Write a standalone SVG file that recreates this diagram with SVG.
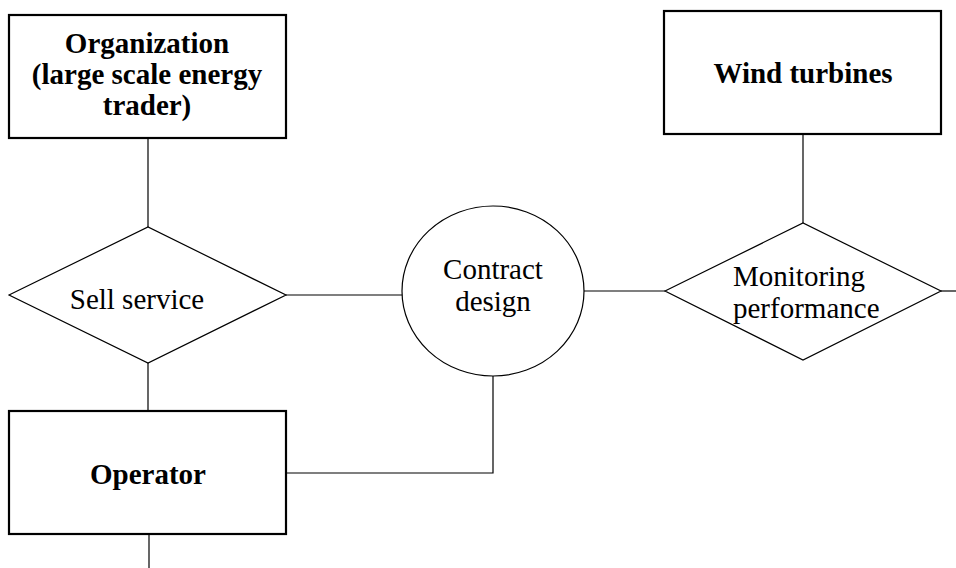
<svg xmlns="http://www.w3.org/2000/svg" width="956" height="568" viewBox="0 0 956 568">
  <style>
    .box { fill: #ffffff; stroke: #000000; stroke-width: 2.2; }
    .shape { fill: #ffffff; stroke: #000000; stroke-width: 1.2; }
    .link { fill: none; stroke: #000000; stroke-width: 1.2; }
    .bold { font-family: "Liberation Serif", "Times New Roman", serif; font-size: 29px; font-weight: bold; fill: #000000; text-anchor: middle; }
    .plain { font-family: "Liberation Serif", "Times New Roman", serif; font-size: 29px; fill: #000000; }
  </style>
  <rect width="956" height="568" fill="#ffffff"/>

  <!-- connecting lines -->
  <g id="connectors">
    <line class="link" x1="148" y1="138" x2="148" y2="227"/>
    <line class="link" x1="148" y1="363" x2="148" y2="411"/>
    <line class="link" x1="149" y1="534" x2="149" y2="568"/>
    <line class="link" x1="286" y1="295" x2="403" y2="295"/>
    <line class="link" x1="584" y1="291" x2="665" y2="291"/>
    <line class="link" x1="941" y1="291" x2="956" y2="291"/>
    <line class="link" x1="803" y1="134" x2="803" y2="223"/>
    <polyline class="link" points="286,473 493,473 493,376"/>
  </g>

  <g id="organization">
    <rect class="box" x="9" y="15" width="277" height="123"/>
    <text class="bold" x="147" y="53">Organization</text>
    <text class="bold" x="147" y="84">(large scale energy</text>
    <text class="bold" x="147" y="115">trader)</text>
  </g>

  <g id="wind-turbines">
    <rect class="box" x="664" y="11" width="277" height="123"/>
    <text class="bold" x="803" y="83">Wind turbines</text>
  </g>

  <g id="sell-service">
    <polygon class="shape" points="9,295 148,227 286,295 148,363"/>
    <text class="plain" x="137" y="309" text-anchor="middle">Sell service</text>
  </g>

  <g id="contract-design">
    <ellipse class="shape" cx="493" cy="291" rx="91" ry="85"/>
    <text class="plain" x="493" y="279" text-anchor="middle">Contract</text>
    <text class="plain" x="493" y="311" text-anchor="middle">design</text>
  </g>

  <g id="monitoring-performance">
    <polygon class="shape" points="665,291 803,223 941,291 803,360"/>
    <text class="plain" x="733" y="286">Monitoring</text>
    <text class="plain" x="733" y="318">performance</text>
  </g>

  <g id="operator">
    <rect class="box" x="9" y="411" width="277" height="123"/>
    <text class="bold" x="148" y="484">Operator</text>
  </g>
</svg>
